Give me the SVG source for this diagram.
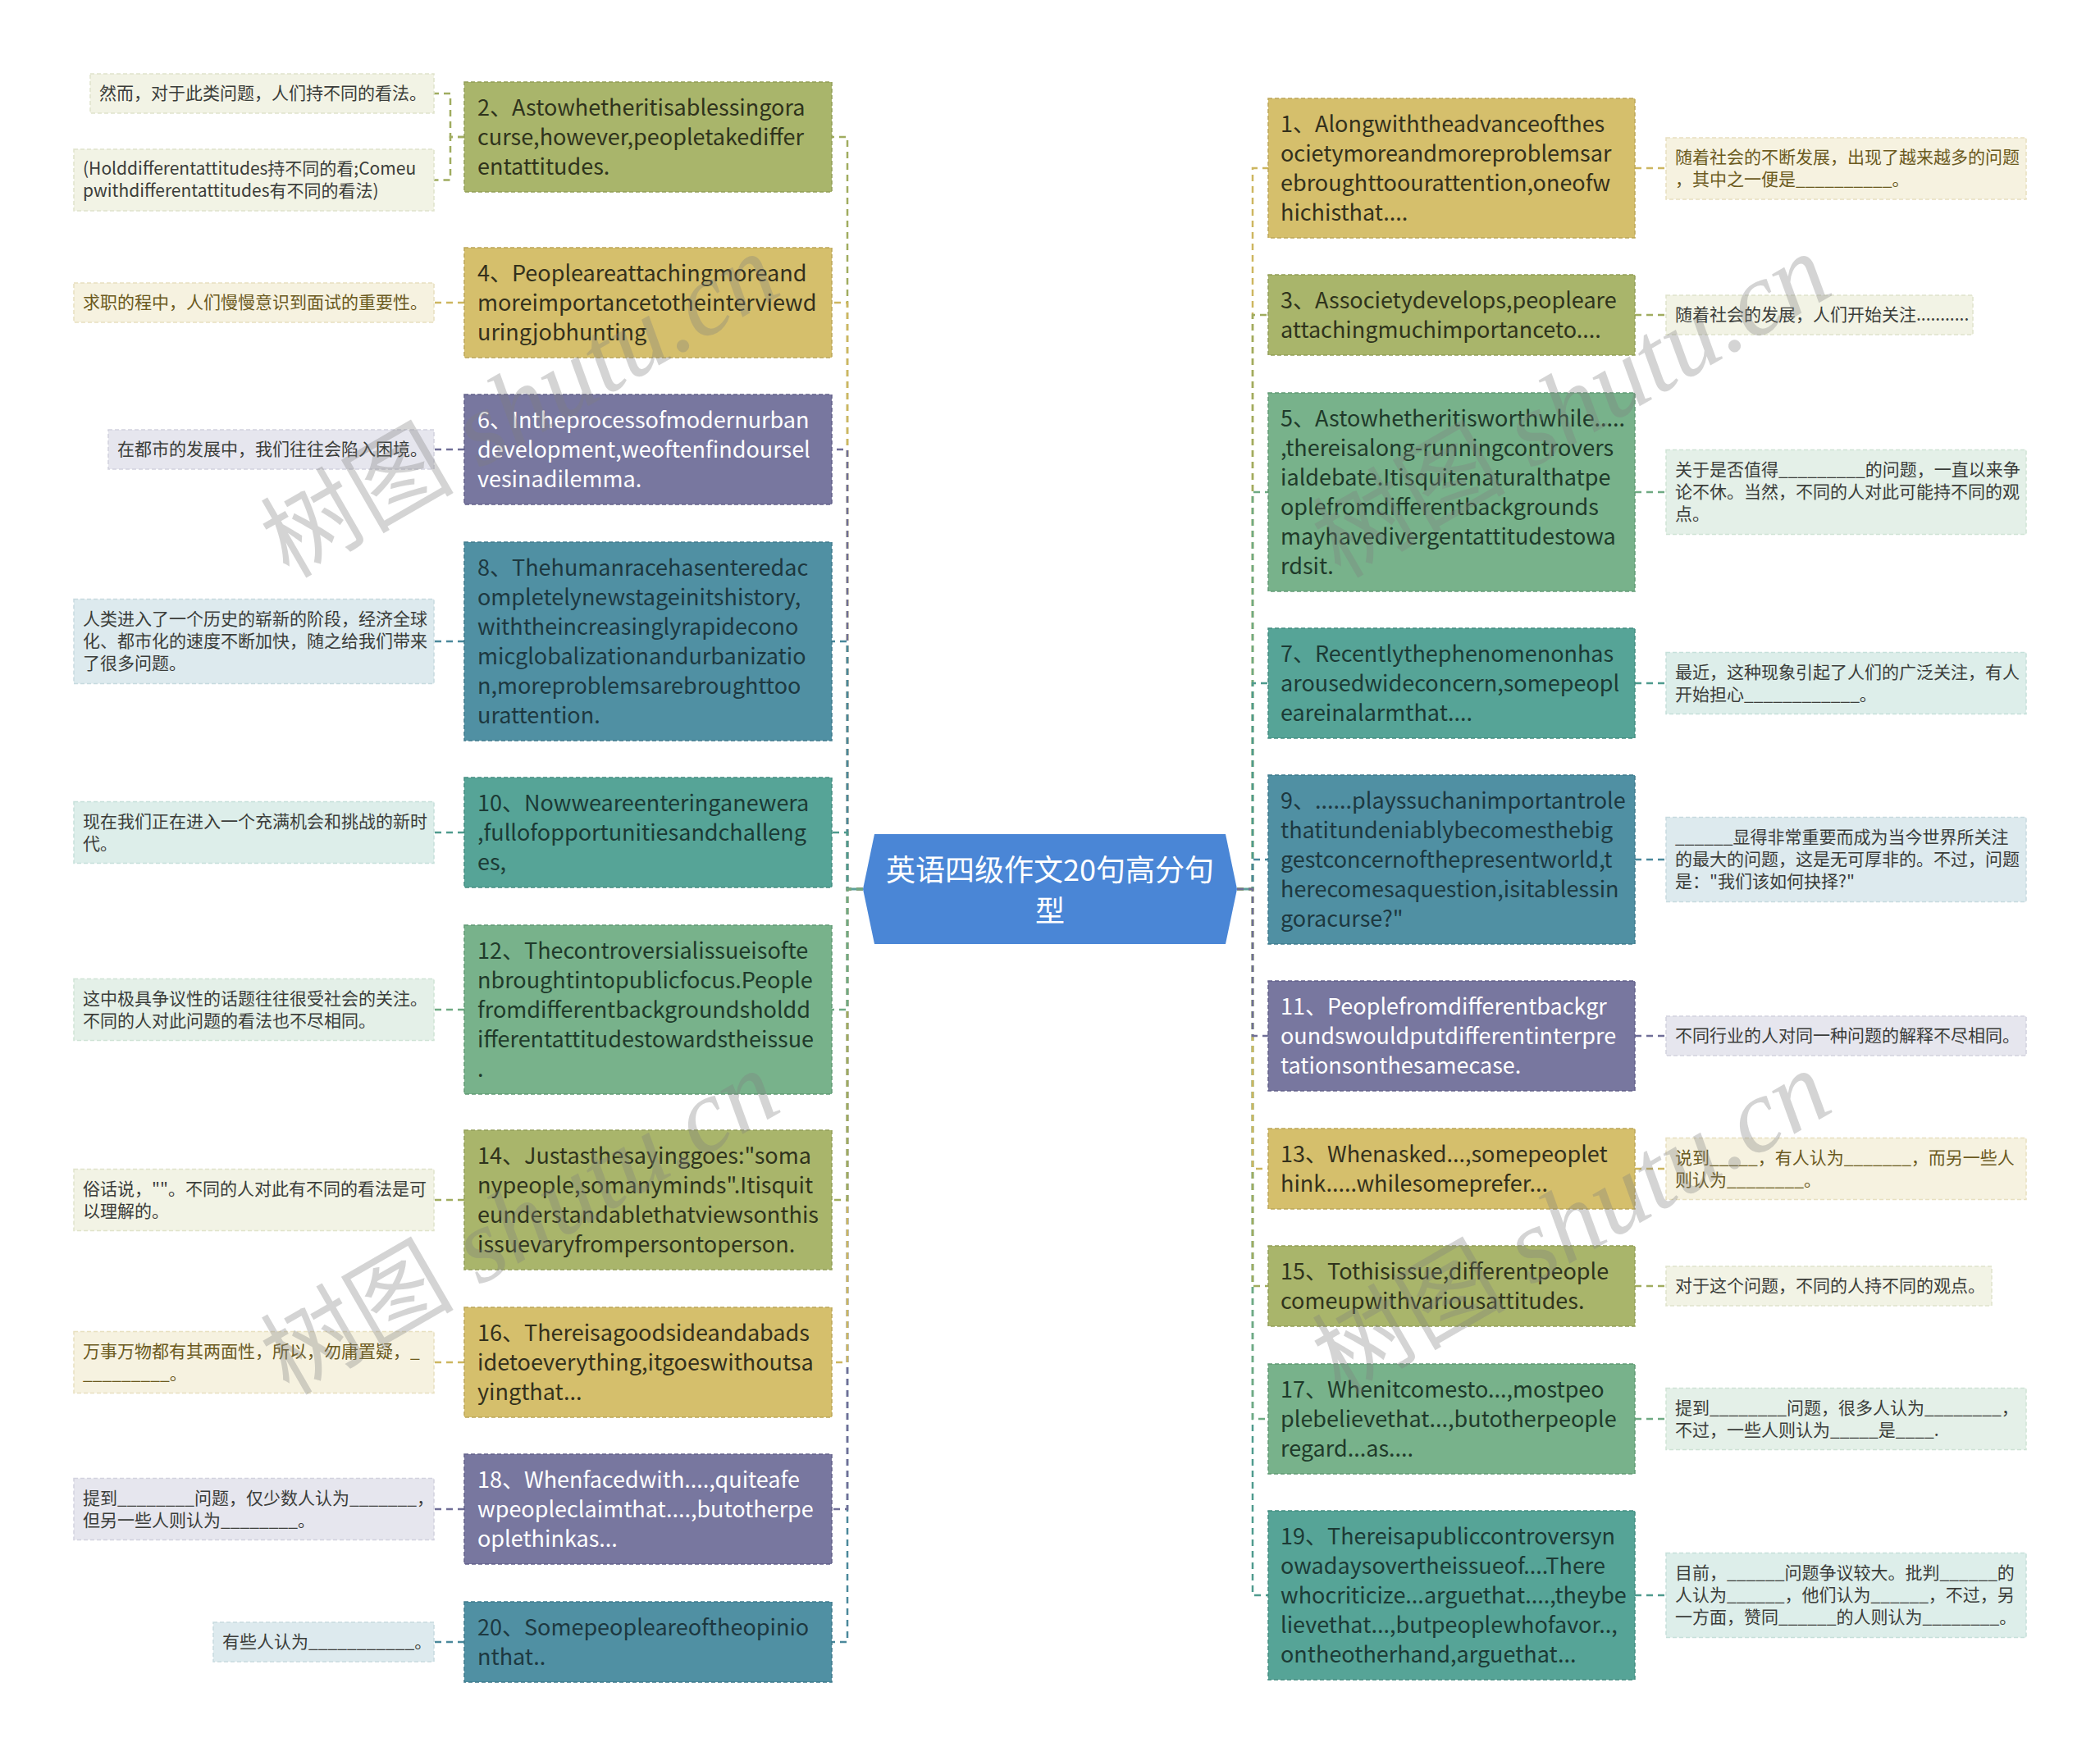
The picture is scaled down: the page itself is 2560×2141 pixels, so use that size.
<svg xmlns="http://www.w3.org/2000/svg" width="2560" height="2141" viewBox="0 0 2560 2141">
<style>
text{font-family:"Noto Sans CJK SC","Noto Sans",sans-serif}
.mt{font-size:27px}
.ct{font-size:21px}
.box{stroke-width:1.5;stroke-dasharray:5 3}
.olive{fill:#a9b56b;stroke:#939f58}
.gold{fill:#d5bf6c;stroke:#bca658}
.purple{fill:#78779f;stroke:#63628a}
.tblue{fill:#5090a3;stroke:#3f7b8d}
.tgreen{fill:#56a497;stroke:#448d81}
.green{fill:#78b28b;stroke:#629b75}
.c-olive{fill:#f2f3e5;stroke:#e0e3cb}
.c-gold{fill:#f6f2e0;stroke:#e8e0c0}
.c-purple{fill:#e6e6ee;stroke:#d2d2de}
.c-tblue{fill:#ddeaee;stroke:#c7dadf}
.c-tgreen{fill:#ddeeea;stroke:#c6e0da}
.c-green{fill:#e4f0e8;stroke:#cfe3d5}
.t-olive{fill:#2f331c}
.t-gold{fill:#33301c}
.t-purple{fill:#ffffff}
.t-tblue{fill:#1d3840}
.t-tgreen{fill:#1c3a35}
.t-green{fill:#1f3a2a}
.ctx{fill:#3b3d3a}
.ctx-gold{fill:#6b5a1e}
.ln{fill:none;stroke-width:2.5;stroke-dasharray:8 6}
.l-olive{stroke:#a0ac5f}
.l-gold{stroke:#cdb660}
.l-purple{stroke:#6f6e97}
.l-tblue{stroke:#4a889b}
.l-tgreen{stroke:#4f9b8e}
.l-green{stroke:#6faa83}
.wm{font-size:118px;fill:#808080;opacity:0.33}
.wml{font-family:"Liberation Serif",serif;font-style:italic;font-size:128px}
</style>

<g id="connectors">
  <line x1="1033" y1="1084" x2="1052" y2="1084" stroke="#5c9e98" stroke-width="3"/>
  <line x1="1508" y1="1084" x2="1527" y2="1084" stroke="#5c9e98" stroke-width="3"/>
  <path class="ln l-olive" d="M1052,1084 H1033 V167 H1014"/>
  <path class="ln l-gold" d="M1052,1084 H1033 V369 H1014"/>
  <path class="ln l-purple" d="M1052,1084 H1033 V548 H1014"/>
  <path class="ln l-tblue" d="M1052,1084 H1033 V782 H1014"/>
  <path class="ln l-tgreen" d="M1052,1084 H1033 V1015 H1014"/>
  <path class="ln l-tblue" d="M1052,1084 H1033 V2002 H1014"/>
  <path class="ln l-purple" d="M1052,1084 H1033 V1840 H1014"/>
  <path class="ln l-gold" d="M1052,1084 H1033 V1661 H1014"/>
  <path class="ln l-olive" d="M1052,1084 H1033 V1463 H1014"/>
  <path class="ln l-green" d="M1052,1084 H1033 V1231 H1014"/>
  <path class="ln l-gold" d="M1508,1084 H1527 V205 H1546"/>
  <path class="ln l-olive" d="M1508,1084 H1527 V384 H1546"/>
  <path class="ln l-green" d="M1508,1084 H1527 V600 H1546"/>
  <path class="ln l-tgreen" d="M1508,1084 H1527 V833 H1546"/>
  <path class="ln l-tblue" d="M1508,1084 H1527 V1048 H1546"/>
  <path class="ln l-tgreen" d="M1508,1084 H1527 V1945 H1546"/>
  <path class="ln l-green" d="M1508,1084 H1527 V1730 H1546"/>
  <path class="ln l-olive" d="M1508,1084 H1527 V1568 H1546"/>
  <path class="ln l-gold" d="M1508,1084 H1527 V1425 H1546"/>
  <path class="ln l-purple" d="M1508,1084 H1527 V1263 H1546"/>
  <path class="ln l-olive" d="M566,167 H549 V114 H529"/>
  <path class="ln l-olive" d="M566,167 H549 V219.5 H529"/>
  <path class="ln l-gold" d="M566,369 H529"/>
  <path class="ln l-purple" d="M566,548 H529"/>
  <path class="ln l-tblue" d="M566,782 H529"/>
  <path class="ln l-tgreen" d="M566,1015 H529"/>
  <path class="ln l-green" d="M566,1231 H529"/>
  <path class="ln l-olive" d="M566,1463 H529"/>
  <path class="ln l-gold" d="M566,1661 H529"/>
  <path class="ln l-purple" d="M566,1840 H529"/>
  <path class="ln l-tblue" d="M566,2002 H529"/>
  <path class="ln l-gold" d="M1993,205 H2031"/>
  <path class="ln l-olive" d="M1993,384 H2031"/>
  <path class="ln l-green" d="M1993,600 H2031"/>
  <path class="ln l-tgreen" d="M1993,833 H2031"/>
  <path class="ln l-tblue" d="M1993,1048 H2031"/>
  <path class="ln l-purple" d="M1993,1263 H2031"/>
  <path class="ln l-gold" d="M1993,1425 H2031"/>
  <path class="ln l-olive" d="M1993,1568 H2031"/>
  <path class="ln l-green" d="M1993,1730 H2031"/>
  <path class="ln l-tgreen" d="M1993,1945 H2031"/>
</g>

<g id="root">
  <polygon points="1052,1084 1066,1017 1494,1017 1508,1084 1494,1151 1066,1151" fill="#4a86d6"/>
  <text x="1280" y="1074" text-anchor="middle" font-size="36" fill="#ffffff">英语四级作文20句高分句</text>
  <text x="1280" y="1124" text-anchor="middle" font-size="36" fill="#ffffff">型</text>
</g>

<g id="n2">
  <rect class="box olive" x="566" y="100" width="448" height="134"/>
  <text class="mt t-olive" x="582" y="141"><tspan x="582">2、Astowhetheritisablessingora</tspan><tspan x="582" dy="36">curse,however,peopletakediffer</tspan><tspan x="582" dy="36">entattitudes.</tspan></text>
</g>
<g id="n4">
  <rect class="box gold" x="566" y="302" width="448" height="134"/>
  <text class="mt t-gold" x="582" y="343"><tspan x="582">4、Peopleareattachingmoreand</tspan><tspan x="582" dy="36">moreimportancetotheinterviewd</tspan><tspan x="582" dy="36">uringjobhunting</tspan></text>
</g>
<g id="n6">
  <rect class="box purple" x="566" y="481" width="448" height="134"/>
  <text class="mt t-purple" x="582" y="522"><tspan x="582">6、Intheprocessofmodernurban</tspan><tspan x="582" dy="36">development,weoftenfindoursel</tspan><tspan x="582" dy="36">vesinadilemma.</tspan></text>
</g>
<g id="n8">
  <rect class="box tblue" x="566" y="661" width="448" height="242"/>
  <text class="mt t-tblue" x="582" y="702"><tspan x="582">8、Thehumanracehasenteredac</tspan><tspan x="582" dy="36">ompletelynewstageinitshistory,</tspan><tspan x="582" dy="36">withtheincreasinglyrapidecono</tspan><tspan x="582" dy="36">micglobalizationandurbanizatio</tspan><tspan x="582" dy="36">n,moreproblemsarebroughttoo</tspan><tspan x="582" dy="36">urattention.</tspan></text>
</g>
<g id="n10">
  <rect class="box tgreen" x="566" y="948" width="448" height="134"/>
  <text class="mt t-tgreen" x="582" y="989"><tspan x="582">10、Nowweareenteringanewera</tspan><tspan x="582" dy="36">,fullofopportunitiesandchalleng</tspan><tspan x="582" dy="36">es,</tspan></text>
</g>
<g id="n12">
  <rect class="box green" x="566" y="1128" width="448" height="206"/>
  <text class="mt t-green" x="582" y="1169"><tspan x="582">12、Thecontroversialissueisofte</tspan><tspan x="582" dy="36">nbroughtintopublicfocus.People</tspan><tspan x="582" dy="36">fromdifferentbackgroundsholdd</tspan><tspan x="582" dy="36">ifferentattitudestowardstheissue</tspan><tspan x="582" dy="36">.</tspan></text>
</g>
<g id="n14">
  <rect class="box olive" x="566" y="1378" width="448" height="170"/>
  <text class="mt t-olive" x="582" y="1419"><tspan x="582">14、Justasthesayinggoes:"soma</tspan><tspan x="582" dy="36">nypeople,somanyminds".Itisquit</tspan><tspan x="582" dy="36">eunderstandablethatviewsonthis</tspan><tspan x="582" dy="36">issuevaryfrompersontoperson.</tspan></text>
</g>
<g id="n16">
  <rect class="box gold" x="566" y="1594" width="448" height="134"/>
  <text class="mt t-gold" x="582" y="1635"><tspan x="582">16、Thereisagoodsideandabads</tspan><tspan x="582" dy="36">idetoeverything,itgoeswithoutsa</tspan><tspan x="582" dy="36">yingthat...</tspan></text>
</g>
<g id="n18">
  <rect class="box purple" x="566" y="1773" width="448" height="134"/>
  <text class="mt t-purple" x="582" y="1814"><tspan x="582">18、Whenfacedwith....,quiteafe</tspan><tspan x="582" dy="36">wpeopleclaimthat....,butotherpe</tspan><tspan x="582" dy="36">oplethinkas...</tspan></text>
</g>
<g id="n20">
  <rect class="box tblue" x="566" y="1953" width="448" height="98"/>
  <text class="mt t-tblue" x="582" y="1994"><tspan x="582">20、Somepeopleareoftheopinio</tspan><tspan x="582" dy="36">nthat..</tspan></text>
</g>

<g id="n1">
  <rect class="box gold" x="1546" y="120" width="447" height="170"/>
  <text class="mt t-gold" x="1561" y="161"><tspan x="1561">1、Alongwiththeadvanceofthes</tspan><tspan x="1561" dy="36">ocietymoreandmoreproblemsar</tspan><tspan x="1561" dy="36">ebroughttoourattention,oneofw</tspan><tspan x="1561" dy="36">hichisthat....</tspan></text>
</g>
<g id="n3">
  <rect class="box olive" x="1546" y="335" width="447" height="98"/>
  <text class="mt t-olive" x="1561" y="376"><tspan x="1561">3、Associetydevelops,peopleare</tspan><tspan x="1561" dy="36">attachingmuchimportanceto....</tspan></text>
</g>
<g id="n5">
  <rect class="box green" x="1546" y="479" width="447" height="242"/>
  <text class="mt t-green" x="1561" y="520"><tspan x="1561">5、Astowhetheritisworthwhile.....</tspan><tspan x="1561" dy="36">,thereisalong-runningcontrovers</tspan><tspan x="1561" dy="36">ialdebate.Itisquitenaturalthatpe</tspan><tspan x="1561" dy="36">oplefromdifferentbackgrounds</tspan><tspan x="1561" dy="36">mayhavedivergentattitudestowa</tspan><tspan x="1561" dy="36">rdsit.</tspan></text>
</g>
<g id="n7">
  <rect class="box tgreen" x="1546" y="766" width="447" height="134"/>
  <text class="mt t-tgreen" x="1561" y="807"><tspan x="1561">7、Recentlythephenomenonhas</tspan><tspan x="1561" dy="36">arousedwideconcern,somepeopl</tspan><tspan x="1561" dy="36">eareinalarmthat....</tspan></text>
</g>
<g id="n9">
  <rect class="box tblue" x="1546" y="945" width="447" height="206"/>
  <text class="mt t-tblue" x="1561" y="986"><tspan x="1561">9、......playssuchanimportantrole</tspan><tspan x="1561" dy="36">thatitundeniablybecomesthebig</tspan><tspan x="1561" dy="36">gestconcernofthepresentworld,t</tspan><tspan x="1561" dy="36">herecomesaquestion,isitablessin</tspan><tspan x="1561" dy="36">goracurse?"</tspan></text>
</g>
<g id="n11">
  <rect class="box purple" x="1546" y="1196" width="447" height="134"/>
  <text class="mt t-purple" x="1561" y="1237"><tspan x="1561">11、Peoplefromdifferentbackgr</tspan><tspan x="1561" dy="36">oundswouldputdifferentinterpre</tspan><tspan x="1561" dy="36">tationsonthesamecase.</tspan></text>
</g>
<g id="n13">
  <rect class="box gold" x="1546" y="1376" width="447" height="98"/>
  <text class="mt t-gold" x="1561" y="1417"><tspan x="1561">13、Whenasked...,somepeoplet</tspan><tspan x="1561" dy="36">hink.....whilesomeprefer...</tspan></text>
</g>
<g id="n15">
  <rect class="box olive" x="1546" y="1519" width="447" height="98"/>
  <text class="mt t-olive" x="1561" y="1560"><tspan x="1561">15、Tothisissue,differentpeople</tspan><tspan x="1561" dy="36">comeupwithvariousattitudes.</tspan></text>
</g>
<g id="n17">
  <rect class="box green" x="1546" y="1663" width="447" height="134"/>
  <text class="mt t-green" x="1561" y="1704"><tspan x="1561">17、Whenitcomesto...,mostpeo</tspan><tspan x="1561" dy="36">plebelievethat...,butotherpeople</tspan><tspan x="1561" dy="36">regard...as....</tspan></text>
</g>
<g id="n19">
  <rect class="box tgreen" x="1546" y="1842" width="447" height="206"/>
  <text class="mt t-tgreen" x="1561" y="1883"><tspan x="1561">19、Thereisapubliccontroversyn</tspan><tspan x="1561" dy="36">owadaysovertheissueof....There</tspan><tspan x="1561" dy="36">whocriticize...arguethat....,theybe</tspan><tspan x="1561" dy="36">lievethat...,butpeoplewhofavor..,</tspan><tspan x="1561" dy="36">ontheotherhand,arguethat...</tspan></text>
</g>

<g id="c2a">
  <rect class="box c-olive" x="110" y="90" width="419" height="48"/>
  <text class="ct ctx" x="121" y="121">然而，对于此类问题，人们持不同的看法。</text>
</g>
<g id="c2b">
  <rect class="box c-olive" x="90" y="182" width="439" height="75"/>
  <text class="ct ctx" x="101" y="213"><tspan x="101">(Holddifferentattitudes持不同的看;Comeu</tspan><tspan x="101" dy="27">pwithdifferentattitudes有不同的看法)</tspan></text>
</g>
<g id="c4">
  <rect class="box c-gold" x="90" y="345" width="439" height="48"/>
  <text class="ct ctx-gold" x="101" y="376">求职的程中，人们慢慢意识到面试的重要性。</text>
</g>
<g id="c6">
  <rect class="box c-purple" x="132" y="524" width="397" height="48"/>
  <text class="ct ctx" x="143" y="555">在都市的发展中，我们往往会陷入困境。</text>
</g>
<g id="c8">
  <rect class="box c-tblue" x="90" y="730.5" width="439" height="103"/>
  <text class="ct ctx" x="101" y="762"><tspan x="101">人类进入了一个历史的崭新的阶段，经济全球</tspan><tspan x="101" dy="27">化、都市化的速度不断加快，随之给我们带来</tspan><tspan x="101" dy="27">了很多问题。</tspan></text>
</g>
<g id="c10">
  <rect class="box c-tgreen" x="90" y="977.5" width="439" height="75"/>
  <text class="ct ctx" x="101" y="1008.5"><tspan x="101">现在我们正在进入一个充满机会和挑战的新时</tspan><tspan x="101" dy="27">代。</tspan></text>
</g>
<g id="c12">
  <rect class="box c-green" x="90" y="1193.5" width="439" height="75"/>
  <text class="ct ctx" x="101" y="1224.5"><tspan x="101">这中极具争议性的话题往往很受社会的关注。</tspan><tspan x="101" dy="27">不同的人对此问题的看法也不尽相同。</tspan></text>
</g>
<g id="c14">
  <rect class="box c-olive" x="90" y="1425.5" width="439" height="75"/>
  <text class="ct ctx" x="101" y="1456.5"><tspan x="101">俗话说，""。不同的人对此有不同的看法是可</tspan><tspan x="101" dy="27">以理解的。</tspan></text>
</g>
<g id="c16">
  <rect class="box c-gold" x="90" y="1623.5" width="439" height="75"/>
  <text class="ct ctx-gold" x="101" y="1654.5"><tspan x="101">万事万物都有其两面性，所以，勿庸置疑，_</tspan><tspan x="101" dy="27">_________。</tspan></text>
</g>
<g id="c18">
  <rect class="box c-purple" x="90" y="1802.5" width="439" height="75"/>
  <text class="ct ctx" x="101" y="1833.5"><tspan x="101">提到________问题，仅少数人认为_______，</tspan><tspan x="101" dy="27">但另一些人则认为________。</tspan></text>
</g>
<g id="c20">
  <rect class="box c-tblue" x="260" y="1978" width="269" height="48"/>
  <text class="ct ctx" x="271" y="2009">有些人认为___________。</text>
</g>

<g id="c1">
  <rect class="box c-gold" x="2031" y="168" width="439" height="75"/>
  <text class="ct ctx-gold" x="2042" y="198.5"><tspan x="2042">随着社会的不断发展，出现了越来越多的问题</tspan><tspan x="2042" dy="27">，其中之一便是__________。</tspan></text>
</g>
<g id="c3">
  <rect class="box c-olive" x="2031" y="360" width="374" height="48"/>
  <text class="ct ctx" x="2042" y="391">随着社会的发展，人们开始关注...........</text>
</g>
<g id="c5">
  <rect class="box c-green" x="2031" y="548.5" width="439" height="103"/>
  <text class="ct ctx" x="2042" y="580"><tspan x="2042">关于是否值得_________的问题，一直以来争</tspan><tspan x="2042" dy="27">论不休。当然，不同的人对此可能持不同的观</tspan><tspan x="2042" dy="27">点。</tspan></text>
</g>
<g id="c7">
  <rect class="box c-tgreen" x="2031" y="795.5" width="439" height="75"/>
  <text class="ct ctx" x="2042" y="826.5"><tspan x="2042">最近，这种现象引起了人们的广泛关注，有人</tspan><tspan x="2042" dy="27">开始担心____________。</tspan></text>
</g>
<g id="c9">
  <rect class="box c-tblue" x="2031" y="996.5" width="439" height="103"/>
  <text class="ct ctx" x="2042" y="1028"><tspan x="2042">______显得非常重要而成为当今世界所关注</tspan><tspan x="2042" dy="27">的最大的问题，这是无可厚非的。不过，问题</tspan><tspan x="2042" dy="27">是："我们该如何抉择?"</tspan></text>
</g>
<g id="c11">
  <rect class="box c-purple" x="2031" y="1239" width="439" height="48"/>
  <text class="ct ctx" x="2042" y="1270">不同行业的人对同一种问题的解释不尽相同。</text>
</g>
<g id="c13">
  <rect class="box c-gold" x="2031" y="1387.5" width="439" height="75"/>
  <text class="ct ctx-gold" x="2042" y="1418.5"><tspan x="2042">说到_____，有人认为_______，而另一些人</tspan><tspan x="2042" dy="27">则认为________。</tspan></text>
</g>
<g id="c15">
  <rect class="box c-olive" x="2031" y="1544" width="397" height="48"/>
  <text class="ct ctx" x="2042" y="1575">对于这个问题，不同的人持不同的观点。</text>
</g>
<g id="c17">
  <rect class="box c-green" x="2031" y="1692.5" width="439" height="75"/>
  <text class="ct ctx" x="2042" y="1723.5"><tspan x="2042">提到________问题，很多人认为________，</tspan><tspan x="2042" dy="27">不过，一些人则认为_____是____.</tspan></text>
</g>
<g id="c19">
  <rect class="box c-tgreen" x="2031" y="1893.5" width="439" height="103"/>
  <text class="ct ctx" x="2042" y="1925"><tspan x="2042">目前，______问题争议较大。批判______的</tspan><tspan x="2042" dy="27">人认为______，他们认为______，不过，另</tspan><tspan x="2042" dy="27">一方面，赞同______的人则认为________。</tspan></text>
</g>

<g id="watermarks">
  <text class="wm" transform="translate(352,706) rotate(-30)">树图<tspan class="wml"> shutu.cn</tspan></text>
  <text class="wm" transform="translate(1634,706) rotate(-30)">树图<tspan class="wml"> shutu.cn</tspan></text>
  <text class="wm" transform="translate(352,1702) rotate(-30)">树图<tspan class="wml"> shutu.cn</tspan></text>
  <text class="wm" transform="translate(1634,1702) rotate(-30)">树图<tspan class="wml"> shutu.cn</tspan></text>
</g>
</svg>
